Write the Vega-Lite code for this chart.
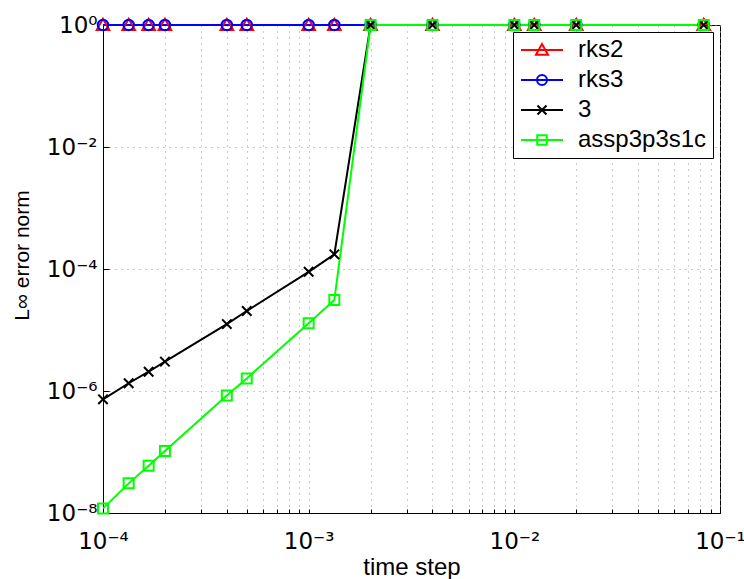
{
  "$schema": "https://vega.github.io/schema/vega-lite/v6.json",
  "autosize": {"type": "none"},
  "width": 617,
  "height": 488,
  "padding": {"left": 103, "top": 25, "right": 24, "bottom": 66},
  "background": "white",
  "data": {
    "values": [
      {"series": "rks2", "x": 0.0001, "y": 1},
      {"series": "rks2", "x": 0.0001333, "y": 1},
      {"series": "rks2", "x": 0.0001667, "y": 1},
      {"series": "rks2", "x": 0.0002, "y": 1},
      {"series": "rks2", "x": 0.0004, "y": 1},
      {"series": "rks2", "x": 0.0005, "y": 1},
      {"series": "rks2", "x": 0.001, "y": 1},
      {"series": "rks2", "x": 0.001333, "y": 1},
      {"series": "rks2", "x": 0.002, "y": 1},
      {"series": "rks2", "x": 0.004, "y": 1},
      {"series": "rks2", "x": 0.01, "y": 1},
      {"series": "rks2", "x": 0.0125, "y": 1},
      {"series": "rks2", "x": 0.02, "y": 1},
      {"series": "rks2", "x": 0.08333, "y": 1},
      {"series": "rks3", "x": 0.0001, "y": 1},
      {"series": "rks3", "x": 0.0001333, "y": 1},
      {"series": "rks3", "x": 0.0001667, "y": 1},
      {"series": "rks3", "x": 0.0002, "y": 1},
      {"series": "rks3", "x": 0.0004, "y": 1},
      {"series": "rks3", "x": 0.0005, "y": 1},
      {"series": "rks3", "x": 0.001, "y": 1},
      {"series": "rks3", "x": 0.001333, "y": 1},
      {"series": "rks3", "x": 0.002, "y": 1},
      {"series": "rks3", "x": 0.004, "y": 1},
      {"series": "rks3", "x": 0.01, "y": 1},
      {"series": "rks3", "x": 0.0125, "y": 1},
      {"series": "rks3", "x": 0.02, "y": 1},
      {"series": "rks3", "x": 0.08333, "y": 1},
      {"series": "3", "x": 0.0001, "y": 7.3e-7},
      {"series": "3", "x": 0.0001333, "y": 1.34e-6},
      {"series": "3", "x": 0.0001667, "y": 2.07e-6},
      {"series": "3", "x": 0.0002, "y": 3.03e-6},
      {"series": "3", "x": 0.0004, "y": 1.25e-5},
      {"series": "3", "x": 0.0005, "y": 2.05e-5},
      {"series": "3", "x": 0.001, "y": 9.0e-5},
      {"series": "3", "x": 0.001333, "y": 1.74e-4},
      {"series": "3", "x": 0.002, "y": 1},
      {"series": "3", "x": 0.004, "y": 1},
      {"series": "3", "x": 0.01, "y": 1},
      {"series": "3", "x": 0.0125, "y": 1},
      {"series": "3", "x": 0.02, "y": 1},
      {"series": "3", "x": 0.08333, "y": 1},
      {"series": "assp3p3s1c", "x": 0.0001, "y": 1.19e-8},
      {"series": "assp3p3s1c", "x": 0.0001333, "y": 3.06e-8},
      {"series": "assp3p3s1c", "x": 0.0001667, "y": 5.97e-8},
      {"series": "assp3p3s1c", "x": 0.0002, "y": 1.04e-7},
      {"series": "assp3p3s1c", "x": 0.0004, "y": 8.4e-7},
      {"series": "assp3p3s1c", "x": 0.0005, "y": 1.61e-6},
      {"series": "assp3p3s1c", "x": 0.001, "y": 1.29e-5},
      {"series": "assp3p3s1c", "x": 0.001333, "y": 3.1e-5},
      {"series": "assp3p3s1c", "x": 0.002, "y": 1},
      {"series": "assp3p3s1c", "x": 0.004, "y": 1},
      {"series": "assp3p3s1c", "x": 0.01, "y": 1},
      {"series": "assp3p3s1c", "x": 0.0125, "y": 1},
      {"series": "assp3p3s1c", "x": 0.02, "y": 1},
      {"series": "assp3p3s1c", "x": 0.08333, "y": 1}
    ]
  },
  "encoding": {
    "x": {
      "field": "x", "type": "quantitative",
      "scale": {"type": "log", "domain": [0.0001, 0.1], "nice": false},
      "axis": {
        "title": "time step",
        "values": [0.0001,0.0002,0.0003,0.0004,0.0005,0.0006,0.0007,0.0008,0.0009,0.001,0.002,0.003,0.004,0.005,0.006,0.007,0.008,0.009,0.01,0.02,0.03,0.04,0.05,0.06,0.07,0.08,0.09,0.1],
        "labelExpr": "abs(log(datum.value)/LN10 - round(log(datum.value)/LN10)) < 0.000001 ? '10' + replace(replace(replace(replace(replace(replace(replace(replace('' + round(log(datum.value)/LN10), '-', '⁻'), '0', '⁰'), '1', '¹'), '2', '²'), '3', '³'), '4', '⁴'), '6', '⁶'), '8', '⁸') : ''",
        "labelBaseline": "alphabetic",
        "ticks": true,
        "tickSize": -4,
        "tickColor": "black",
        "labelPadding": 39,
        "titleY": 61,
        "titleFontSize": 24,
        "titleBaseline": "alphabetic"
      }
    },
    "y": {
      "field": "y", "type": "quantitative",
      "scale": {"type": "log", "domain": [1e-8, 1], "nice": false},
      "axis": {
        "title": "L∞ error norm",
        "values": [1, 0.01, 0.0001, 0.000001, 0.00000001],
        "labelExpr": "'10' + replace(replace(replace(replace(replace(replace(replace(replace('' + round(log(datum.value)/LN10), '-', '⁻'), '0', '⁰'), '1', '¹'), '2', '²'), '3', '³'), '4', '⁴'), '6', '⁶'), '8', '⁸')",
        "ticks": true,
        "tickSize": -6,
        "tickColor": "black",
        "labelPadding": 12,
        "titleX": -81,
        "titleY": 230,
        "titleAngle": -90,
        "titleFontSize": 21,
        "titleBaseline": "middle"
      }
    },
    "color": {
      "field": "series", "type": "nominal",
      "scale": {"domain": ["rks2", "rks3", "3", "assp3p3s1c"], "range": ["#ff0000", "#0000ff", "#000000", "#00ff00"]},
      "legend": {
        "title": null,
        "orient": "top-right",
        "offset": 7,
        "padding": 6,
        "rowPadding": 6,
        "strokeColor": "black",
        "fillColor": "white",
        "labelFont": "Liberation Sans",
        "labelFontSize": 24,
        "labelColor": "black",
        "labelOffset": 24,
        "symbolOffset": 11,
        "symbolSize": 100,
        "symbolStrokeWidth": 2
      }
    }
  },
  "layer": [
    {
      "mark": {"type": "line", "strokeWidth": 2},
      "encoding": {"detail": {"field": "series"}}
    },
    {
      "transform": [{"filter": "datum.series == 'rks2'"}],
      "mark": {"type": "point", "filled": false, "strokeWidth": 2, "opacity": 1, "shape": "M0,-1.2L1.2,0.96L-1.2,0.96Z", "size": 110}
    },
    {
      "transform": [{"filter": "datum.series == 'rks3'"}],
      "mark": {"type": "point", "filled": false, "strokeWidth": 2, "opacity": 1, "shape": "circle", "size": 110}
    },
    {
      "transform": [{"filter": "datum.series == '3'"}],
      "mark": {"type": "point", "filled": false, "strokeWidth": 2, "opacity": 1, "shape": "M-0.9,-0.9L0.9,0.9M-0.9,0.9L0.9,-0.9", "size": 110}
    },
    {
      "transform": [{"filter": "datum.series == 'assp3p3s1c'"}],
      "mark": {"type": "point", "filled": false, "strokeWidth": 2, "opacity": 1, "shape": "square", "size": 100}
    },
    {
      "transform": [{"filter": "false"}],
      "mark": {"type": "point", "filled": false, "strokeWidth": 2, "opacity": 1},
      "encoding": {
        "shape": {
          "field": "series", "type": "nominal",
          "scale": {"domain": ["rks2", "rks3", "3", "assp3p3s1c"], "range": ["M-4.2,0H4.2M0,-1.2L1.2,0.96L-1.2,0.96Z", "M-4.2,0H4.2M1,0A1,1 0 1,1 -1,0A1,1 0 1,1 1,0", "M-4.2,0H4.2M-0.9,-0.9L0.9,0.9M-0.9,0.9L0.9,-0.9", "M-4.2,0H4.2M-0.95,-0.95H0.95V0.95H-0.95Z"]},
          "legend": {
            "title": null,
            "orient": "top-right",
            "offset": 7,
            "padding": 6,
            "rowPadding": 6,
            "strokeColor": "black",
            "fillColor": "white",
            "labelFont": "Liberation Sans",
            "labelFontSize": 24,
            "labelColor": "black",
            "labelOffset": 24,
            "symbolOffset": 11,
            "symbolSize": 100,
            "symbolStrokeWidth": 2
          }
        }
      }
    }
  ],
  "config": {
    "view": {"stroke": "black", "strokeWidth": 1},
    "axis": {
      "grid": true,
      "gridColor": "#999999",
      "gridDash": [1, 5],
      "gridWidth": 1,
      "gridOpacity": 1,
      "domainColor": "black",
      "domainWidth": 1,
      "labelFont": "DejaVu Sans",
      "labelFontSize": 23,
      "labelColor": "black",
      "titleFont": "Liberation Sans",
      "titleFontWeight": "normal",
      "titleColor": "black",
      "labelOverlap": false,
      "labelFlush": false
    }
  }
}
